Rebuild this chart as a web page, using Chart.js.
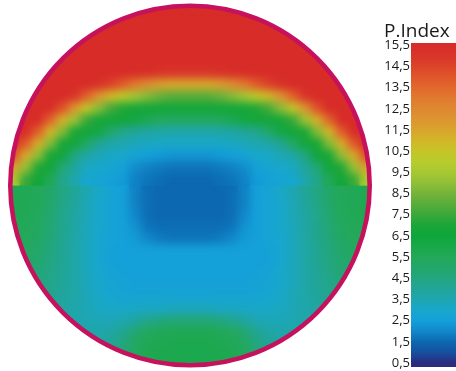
<!DOCTYPE html>
<html>
<head>
<meta charset="utf-8">
<script src="https://cdn.jsdelivr.net/npm/chart.js@4.4.1/dist/chart.umd.min.js"></script>
<style>
  html, body { margin: 0; padding: 0; background: #fff; }
  #wrap { position: relative; width: 456px; height: 371px; overflow: hidden; }
  #map { position: absolute; left: 0; top: 0; width: 380px; height: 371px; }
  #bar { position: absolute; left: 370px; top: 0; width: 86px; height: 371px; }
</style>
</head>
<body>
<div id="wrap">
  <canvas id="map" width="380" height="371"></canvas>
  <canvas id="bar" width="86" height="371"></canvas>
</div>
<script>
// P.Index over the disc, 30 x 30 cells, upper half (rows 0-14)
const topRows = [
  [15.5,15.5,15.5,15.5,15.5,15.5,15.5,15.5,15.5,15.5,15.5,15.5,15.5,15.5,15.5,15.5,15.5,15.5,15.5,15.5,15.5,15.5,15.5,15.5,15.5,15.5,15.5,15.5,15.5,15.5],
  [15.5,15.5,15.5,15.5,15.5,15.5,15.5,15.5,15.5,15.5,15.5,15.5,15.5,15.5,15.5,15.5,15.5,15.5,15.5,15.5,15.5,15.5,15.5,15.5,15.5,15.5,15.5,15.5,15.5,15.5],
  [15.5,15.5,15.5,15.5,15.5,15.5,15.5,15.5,15.5,15.5,15.5,15.5,15.5,15.5,15.5,15.5,15.5,15.5,15.5,15.5,15.5,15.5,15.5,15.5,15.5,15.5,15.5,15.5,15.5,15.5],
  [15.5,15.5,15.5,15.5,15.5,15.5,15.5,15.5,15.5,15.5,15.5,15.5,15.5,15.5,15.5,15.5,15.5,15.5,15.5,15.5,15.5,15.5,15.5,15.5,15.5,15.5,15.5,15.5,15.5,15.5],
  [15.5,15.5,15.5,15.5,15.5,15.5,15.5,15.5,15.5,15.5,15.5,15.5,15.5,15.5,15.5,15.5,15.5,15.5,15.5,15.5,15.5,15.5,15.5,15.5,15.5,15.5,15.5,15.5,15.5,15.5],
  [15.5,15.5,15.5,15.5,15.5,15.5,15.5,15.5,15.5,15.5,15.5,15.4,15.2,15.1,15.1,15.1,15.1,15.2,15.4,15.5,15.5,15.5,15.5,15.5,15.5,15.5,15.5,15.5,15.5,15.5],
  [15.5,15.5,15.5,15.5,15.5,15.5,15.5,15.3,14.6,13.9,13.0,12.3,11.7,11.4,11.4,11.4,11.4,11.7,12.3,13.0,13.9,14.6,15.3,15.5,15.5,15.5,15.5,15.5,15.5,15.5],
  [15.5,15.5,15.5,15.5,15.5,15.1,13.7,12.0,10.9,10.2,9.4,8.8,8.3,8.0,8.0,8.0,8.0,8.3,8.8,9.4,10.2,10.9,12.0,13.7,15.1,15.5,15.5,15.5,15.5,15.5],
  [15.5,15.5,15.5,15.5,14.2,12.0,10.4,8.9,7.7,7.1,6.8,6.7,6.7,6.7,6.7,6.7,6.7,6.7,6.7,6.8,7.1,7.7,8.9,10.4,12.0,14.2,15.5,15.5,15.5,15.5],
  [15.5,15.5,15.5,13.7,11.2,9.3,7.5,6.8,6.7,6.7,6.2,5.8,5.4,5.3,5.3,5.3,5.3,5.4,5.8,6.2,6.7,6.7,6.8,7.5,9.3,11.2,13.7,15.5,15.5,15.5],
  [15.5,15.5,13.8,11.0,8.8,7.0,6.7,6.2,5.0,4.3,4.0,3.8,3.7,3.6,3.6,3.6,3.6,3.7,3.8,4.0,4.3,5.0,6.2,6.7,7.0,8.8,11.0,13.8,15.5,15.5],
  [15.5,13.9,11.2,8.8,6.9,6.7,5.2,4.1,3.7,3.5,3.3,3.2,3.1,3.1,3.1,3.1,3.1,3.1,3.2,3.3,3.5,3.7,4.1,5.2,6.7,6.9,8.8,11.2,13.9,15.5],
  [14.1,11.3,9.0,6.9,6.6,4.5,3.7,3.4,3.1,3.0,2.7,2.5,2.4,2.3,2.3,2.3,2.3,2.4,2.5,2.7,3.0,3.1,3.4,3.7,4.5,6.6,6.9,9.0,11.3,14.1],
  [11.6,9.1,7.1,6.7,4.8,3.9,3.2,3.0,2.8,2.6,2.1,1.9,1.8,1.7,1.7,1.7,1.7,1.8,1.9,2.1,2.6,2.8,3.0,3.2,3.9,4.8,6.7,7.1,9.1,11.6],
  [9.6,7.4,6.7,5.6,4.3,3.6,2.9,2.8,2.6,2.4,1.9,1.7,1.6,1.5,1.5,1.5,1.5,1.6,1.7,1.9,2.4,2.6,2.8,2.9,3.6,4.3,5.6,6.7,7.4,9.6]
];

// lower half (rows 15-29)
const bottomRows = [
  [5.7,5.6,5.5,5.1,4.5,4.0,3.5,3.1,2.7,2.5,1.9,1.6,1.5,1.5,1.5,1.5,1.5,1.5,1.6,1.9,2.5,2.7,3.1,3.5,4.0,4.5,5.1,5.5,5.6,5.7],
  [5.7,5.6,5.5,5.0,4.4,3.9,3.4,3.0,2.7,2.5,1.9,1.6,1.5,1.5,1.5,1.5,1.5,1.5,1.6,1.9,2.5,2.7,3.0,3.4,3.9,4.4,5.0,5.5,5.6,5.7],
  [5.7,5.6,5.4,4.9,4.3,3.8,3.4,3.0,2.7,2.5,2.0,1.6,1.5,1.5,1.5,1.5,1.5,1.5,1.6,2.0,2.5,2.7,3.0,3.4,3.8,4.3,4.9,5.4,5.6,5.7],
  [5.6,5.5,5.3,4.8,4.2,3.8,3.3,3.0,2.7,2.5,2.2,1.7,1.6,1.6,1.6,1.6,1.6,1.6,1.7,2.2,2.5,2.7,3.0,3.3,3.8,4.2,4.8,5.3,5.5,5.6],
  [5.5,5.4,5.2,4.7,4.2,3.7,3.3,2.9,2.7,2.5,2.4,2.0,1.8,1.7,1.7,1.7,1.7,1.8,2.0,2.4,2.5,2.7,2.9,3.3,3.7,4.2,4.7,5.2,5.4,5.5],
  [5.4,5.3,5.0,4.6,4.1,3.7,3.3,2.9,2.6,2.5,2.5,2.5,2.5,2.5,2.5,2.5,2.5,2.5,2.5,2.5,2.5,2.6,2.9,3.3,3.7,4.1,4.6,5.0,5.3,5.4],
  [5.2,5.1,4.9,4.5,4.1,3.7,3.3,2.9,2.6,2.5,2.5,2.5,2.5,2.5,2.5,2.5,2.5,2.5,2.5,2.5,2.5,2.6,2.9,3.3,3.7,4.1,4.5,4.9,5.1,5.2],
  [5.0,4.9,4.7,4.4,4.0,3.7,3.3,3.0,2.7,2.6,2.5,2.5,2.5,2.5,2.5,2.5,2.5,2.5,2.5,2.5,2.6,2.7,3.0,3.3,3.7,4.0,4.4,4.7,4.9,5.0],
  [4.8,4.7,4.6,4.3,4.0,3.7,3.3,3.0,2.8,2.7,2.6,2.6,2.6,2.6,2.6,2.6,2.6,2.6,2.6,2.6,2.7,2.8,3.0,3.3,3.7,4.0,4.3,4.6,4.7,4.8],
  [4.6,4.5,4.4,4.2,3.9,3.7,3.4,3.1,2.9,2.8,2.8,2.8,2.8,2.8,2.8,2.8,2.8,2.8,2.8,2.8,2.8,2.9,3.1,3.4,3.7,3.9,4.2,4.4,4.5,4.6],
  [4.4,4.3,4.2,4.0,3.8,3.6,3.4,3.2,3.1,3.1,3.1,3.2,3.2,3.3,3.3,3.3,3.3,3.2,3.2,3.1,3.1,3.1,3.2,3.4,3.6,3.8,4.0,4.2,4.3,4.4],
  [4.2,4.1,4.0,3.9,3.7,3.6,3.5,3.4,3.4,3.5,3.9,4.3,4.6,4.8,4.8,4.8,4.8,4.6,4.3,3.9,3.5,3.4,3.4,3.5,3.6,3.7,3.9,4.0,4.1,4.2],
  [4.1,4.0,3.9,3.8,3.7,3.6,3.6,3.6,3.8,4.2,4.9,5.4,5.6,5.7,5.7,5.7,5.7,5.6,5.4,4.9,4.2,3.8,3.6,3.6,3.6,3.7,3.8,3.9,4.0,4.1],
  [4.0,4.0,3.9,3.8,3.7,3.7,3.7,3.8,4.1,4.6,5.3,5.6,5.7,5.8,5.8,5.8,5.8,5.7,5.6,5.3,4.6,4.1,3.8,3.7,3.7,3.7,3.8,3.9,4.0,4.0],
  [4.0,4.0,3.9,3.8,3.7,3.7,3.8,3.9,4.2,4.8,5.4,5.7,5.8,5.8,5.8,5.8,5.8,5.8,5.7,5.4,4.8,4.2,3.9,3.8,3.7,3.7,3.8,3.9,4.0,4.0]
];

// colour scale (P.Index -> colour)
const stopValues = [0.5, 1.0, 1.5, 2.0, 2.5, 3.0, 3.5, 4.0, 4.5, 5.0, 5.5, 6.0, 6.5, 7.0, 7.5, 8.0, 8.5, 9.0, 9.5, 10.0, 10.5, 11.0, 11.5, 12.0, 12.5, 13.0, 13.5, 14.0, 14.5, 15.0, 15.5];
const stopColors = ['#2a2b7e','#16509e','#0c68b0','#1188c9','#14a0d9','#18a7cc','#1ea6b0','#21a598','#22a680','#22a76a','#23a859','#18a848','#0ea63a','#1aa638','#3aa83a','#58ad3a','#74b43a','#90bf36','#a6c832','#b8cc2c','#c6c426','#d2b628','#d9a42c','#dc9530','#de8830','#e07a2e','#e2682c','#e0562a','#dc4429','#d9352a','#d72c28'];

// colour bar ticks
const legendValues = [0.5, 1.5, 2.5, 3.5, 4.5, 5.5, 6.5, 7.5, 8.5, 9.5, 10.5, 11.5, 12.5, 13.5, 14.5, 15.5];
const legendLabels = ['0,5','1,5','2,5','3,5','4,5','5,5','6,5','7,5','8,5','9,5','10,5','11,5','12,5','13,5','14,5','15,5'];
const legendTitle = 'P.Index';

const FONT = "'Open Sans', 'Liberation Sans', sans-serif";
const TEXT = '#1a1a1a';
const RIM = '#c6125d';

function rgb(hex) {
  return [parseInt(hex.slice(1, 3), 16), parseInt(hex.slice(3, 5), 16), parseInt(hex.slice(5, 7), 16)];
}
function colorFor(v) {
  if (v <= stopValues[0]) return stopColors[0];
  for (let i = 1; i < stopValues.length; i++) {
    if (v <= stopValues[i]) {
      const t = (v - stopValues[i - 1]) / (stopValues[i] - stopValues[i - 1]);
      const a = rgb(stopColors[i - 1]), b = rgb(stopColors[i]);
      const m = a.map((c, k) => Math.round(c + (b[k] - c) * t));
      return `rgb(${m[0]},${m[1]},${m[2]})`;
    }
  }
  return stopColors[stopColors.length - 1];
}

function cells(rows, firstRow) {
  const pts = [];
  rows.forEach((row, r) => row.forEach((v, c) => pts.push({ x: c + 0.5, y: firstRow + r + 0.5, v })));
  return pts;
}

const nCols = topRows[0].length;
const nRows = topRows.length + bottomRows.length;

// smooth each half of the cell grid into a continuous field, clipped to the disc
const discField = {
  id: 'discField',
  afterDatasetDraw(chart, args) {
    const src = chart.canvas;
    const layer = document.createElement('canvas');
    layer.width = src.width;
    layer.height = src.height;
    layer.getContext('2d').drawImage(src, 0, 0);
    chart.$fieldLayers = chart.$fieldLayers || [];
    chart.$fieldLayers[args.index] = layer;
    const a = chart.chartArea;
    chart.ctx.clearRect(a.left - 3, a.top - 3, a.width + 6, a.height + 6);
  },
  afterDatasetsDraw(chart) {
    const ctx = chart.ctx;
    const xs = chart.scales.x, ys = chart.scales.y;
    const cx = xs.getPixelForValue(nCols / 2);
    const cy = ys.getPixelForValue(nRows / 2);
    const R = (xs.getPixelForValue(nCols) - xs.getPixelForValue(0)) / 2;
    const layers = chart.$fieldLayers || [];
    const paint = (layer, clipPath) => {
      if (!layer) return;
      ctx.save();
      clipPath();
      ctx.clip();
      ctx.drawImage(layer, 0, 0);
      ctx.filter = 'blur(4px)';
      ctx.drawImage(layer, 0, 0);
      ctx.restore();
    };
    // lower half first over the whole disc, then the upper half on top
    paint(layers[1], () => { ctx.beginPath(); ctx.arc(cx, cy, R - 1, 0, 2 * Math.PI); });
    paint(layers[0], () => { ctx.beginPath(); ctx.arc(cx, cy, R - 1, Math.PI, 2 * Math.PI); ctx.closePath(); });
    ctx.save();
    ctx.beginPath();
    ctx.arc(cx, cy, R - 2.3, 0, 2 * Math.PI);
    ctx.lineWidth = 4.6;
    ctx.strokeStyle = RIM;
    ctx.stroke();
    ctx.restore();
  }
};

const cellRadius = (ctx) => {
  const a = ctx.chart.chartArea;
  if (!a) return 8;
  return (a.width / nCols) * 0.76;
};
const cellColor = (ctx) => (ctx.raw ? colorFor(ctx.raw.v) : '#fff');

new Chart(document.getElementById('map'), {
  type: 'scatter',
  data: {
    datasets: [
      { label: 'upper', data: cells(topRows, 0) },
      { label: 'lower', data: cells(bottomRows, topRows.length) }
    ]
  },
  options: {
    responsive: false,
    devicePixelRatio: 1,
    animation: false,
    events: [],
    layout: { padding: { left: 7, right: 7, top: 4, bottom: 1 } },
    elements: {
      point: {
        pointStyle: 'rect',
        radius: cellRadius,
        backgroundColor: cellColor,
        borderWidth: 0,
        hoverRadius: cellRadius
      }
    },
    plugins: { legend: { display: false }, tooltip: { enabled: false } },
    scales: {
      x: { type: 'linear', min: 0, max: nCols, display: false },
      y: { type: 'linear', min: 0, max: nRows, reverse: true, display: false }
    }
  },
  plugins: [discField]
});

// heading of the colour bar, left-aligned above the tick labels
const barHeading = {
  id: 'barHeading',
  afterDraw(chart) {
    const ctx = chart.ctx;
    const a = chart.chartArea;
    ctx.save();
    ctx.font = `19px ${FONT}`;
    ctx.fillStyle = TEXT;
    ctx.textAlign = 'left';
    ctx.textBaseline = 'alphabetic';
    ctx.fillText(legendTitle, a.left - 27, a.top - 6);
    ctx.restore();
  }
};

// colour bar
new Chart(document.getElementById('bar'), {
  type: 'bar',
  data: {
    labels: [legendTitle],
    datasets: [{
      data: [[0.31, 15.61]],
      borderWidth: 0,
      barPercentage: 1,
      categoryPercentage: 1,
      backgroundColor: (ctx) => {
        const chart = ctx.chart;
        if (!chart.chartArea) return stopColors[0];
        const y = chart.scales.y;
        const g = chart.ctx.createLinearGradient(0, y.getPixelForValue(stopValues[0]), 0, y.getPixelForValue(stopValues[stopValues.length - 1]));
        const span = stopValues[stopValues.length - 1] - stopValues[0];
        stopValues.forEach((v, i) => g.addColorStop((v - stopValues[0]) / span, stopColors[i]));
        return g;
      }
    }]
  },
  options: {
    responsive: false,
    devicePixelRatio: 1,
    animation: false,
    events: [],
    layout: { padding: { left: 0, right: 0, top: 43, bottom: 4 } },
    plugins: {
      legend: { display: false },
      tooltip: { enabled: false },
      title: { display: false }
    },
    scales: {
      x: { display: false },
      y: {
        min: 0.31,
        max: 15.61,
        position: 'left',
        grid: { display: false, drawTicks: false },
        border: { display: false },
        afterFit: (s) => { s.width = 41; s.paddingTop = 0; s.paddingBottom = 0; },
        afterBuildTicks: (s) => { s.ticks = legendValues.map((v) => ({ value: v })); },
        ticks: {
          padding: 1,
          color: TEXT,
          font: { family: FONT, size: 13 },
          callback: (value, i) => legendLabels[i]
        }
      }
    }
  },
  plugins: [barHeading]
});
</script>
</body>
</html>
